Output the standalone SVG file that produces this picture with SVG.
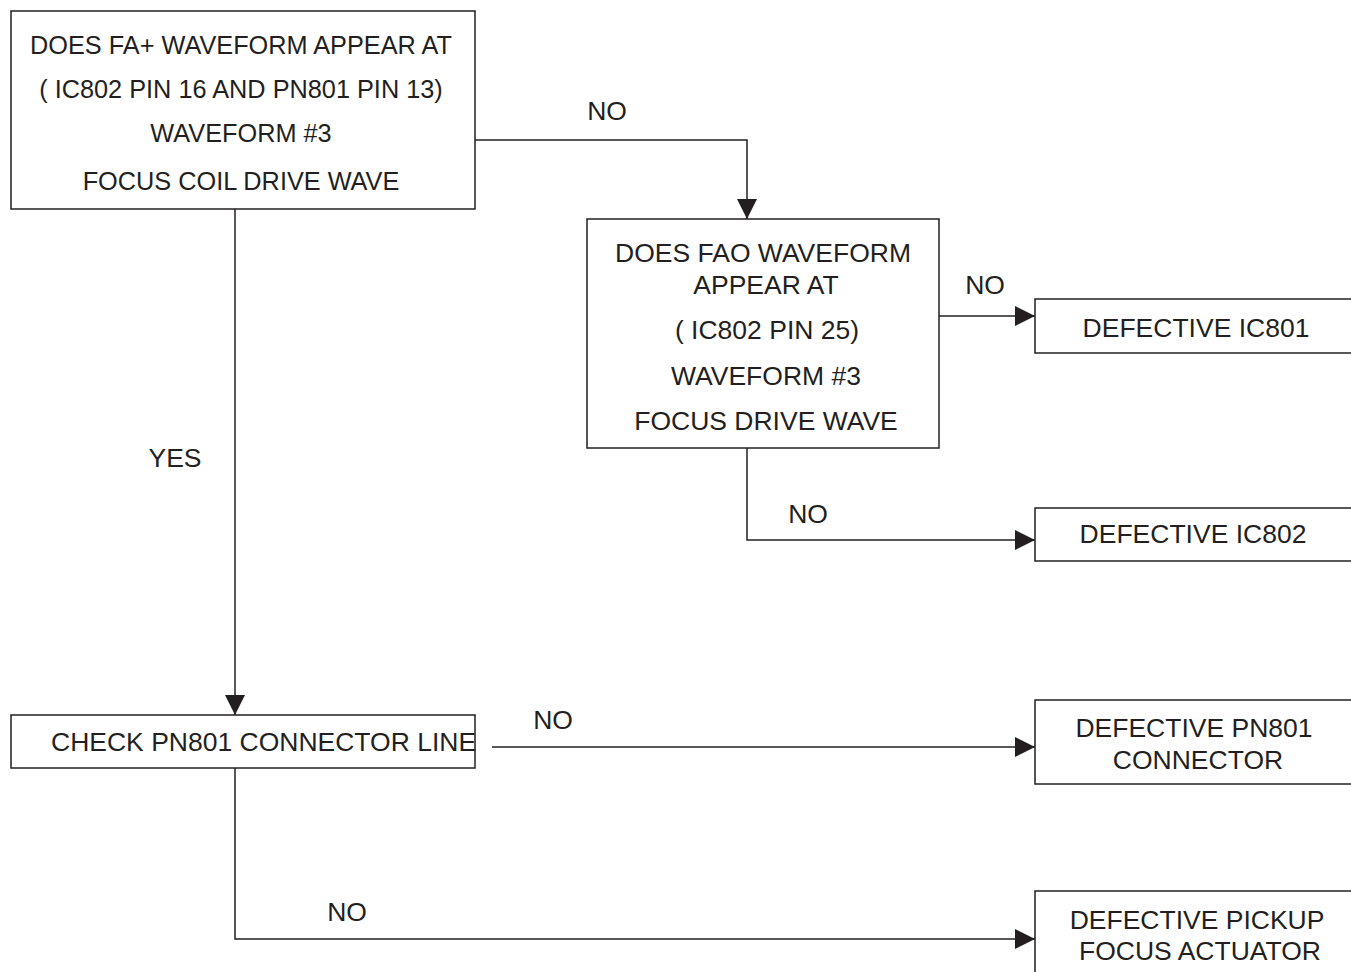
<svg xmlns="http://www.w3.org/2000/svg" width="1351" height="972" viewBox="0 0 1351 972">
<style>
.box{fill:#fff;stroke:#231f20;stroke-width:1.5}
.t{font-family:"Liberation Sans",Arial,sans-serif;font-size:26.5px;fill:#231f20;text-anchor:middle}
.s{font-size:25.3px}
.c{fill:none;stroke:#231f20;stroke-width:1.5}
</style>
<defs>
<marker id="ah" markerWidth="20" markerHeight="20" refX="20" refY="10" orient="auto" markerUnits="userSpaceOnUse">
<path d="M0,0 L20,10 L0,20 Z" fill="#231f20"/>
</marker>
</defs>
<rect width="1351" height="972" fill="#fff"/>
<g id="connectors">
<path class="c" d="M475,140 H747 V219" marker-end="url(#ah)"/>
<path class="c" d="M235,209 V715" marker-end="url(#ah)"/>
<path class="c" d="M939,316 H1035" marker-end="url(#ah)"/>
<path class="c" d="M747,448 V540 H1035" marker-end="url(#ah)"/>
<path class="c" d="M492,747 H1035" marker-end="url(#ah)"/>
<path class="c" d="M235,768 V939 H1035" marker-end="url(#ah)"/>
<text class="t" x="607" y="120">NO</text>
<text class="t" x="985" y="294">NO</text>
<text class="t" x="175" y="467">YES</text>
<text class="t" x="808" y="523">NO</text>
<text class="t" x="553" y="729">NO</text>
<text class="t" x="347" y="921">NO</text>
</g>
<g id="n1">
<rect class="box" x="11" y="11" width="464" height="198"/>
<text class="t s" x="241" y="54">DOES FA+ WAVEFORM APPEAR AT</text>
<text class="t s" x="241" y="98">( IC802 PIN 16 AND PN801 PIN 13)</text>
<text class="t s" x="241" y="142">WAVEFORM #3</text>
<text class="t s" x="241" y="190">FOCUS COIL DRIVE WAVE</text>
</g>
<g id="n2">
<rect class="box" x="587" y="219" width="352" height="229"/>
<text class="t" x="763" y="262">DOES FAO WAVEFORM</text>
<text class="t" x="766" y="294">APPEAR AT</text>
<text class="t" x="767" y="339">( IC802 PIN 25)</text>
<text class="t" x="766" y="385">WAVEFORM #3</text>
<text class="t" x="766" y="430">FOCUS DRIVE WAVE</text>
</g>
<g id="n3">
<rect class="box" x="1035" y="299" width="330" height="54"/>
<text class="t" x="1196" y="337">DEFECTIVE IC801</text>
</g>
<g id="n4">
<rect class="box" x="1035" y="508" width="330" height="53"/>
<text class="t" x="1193" y="543">DEFECTIVE IC802</text>
</g>
<g id="n5">
<rect class="box" x="11" y="715" width="464" height="53"/>
<text class="t" x="51" y="751" style="text-anchor:start">CHECK PN801 CONNECTOR LINE</text>
</g>
<g id="n6">
<rect class="box" x="1035" y="700" width="330" height="84"/>
<text class="t" x="1194" y="737">DEFECTIVE PN801</text>
<text class="t" x="1198" y="769">CONNECTOR</text>
</g>
<g id="n7">
<rect class="box" x="1035" y="891" width="330" height="100"/>
<text class="t" x="1197" y="929">DEFECTIVE PICKUP</text>
<text class="t" x="1200" y="960">FOCUS ACTUATOR</text>
</g>
</svg>
